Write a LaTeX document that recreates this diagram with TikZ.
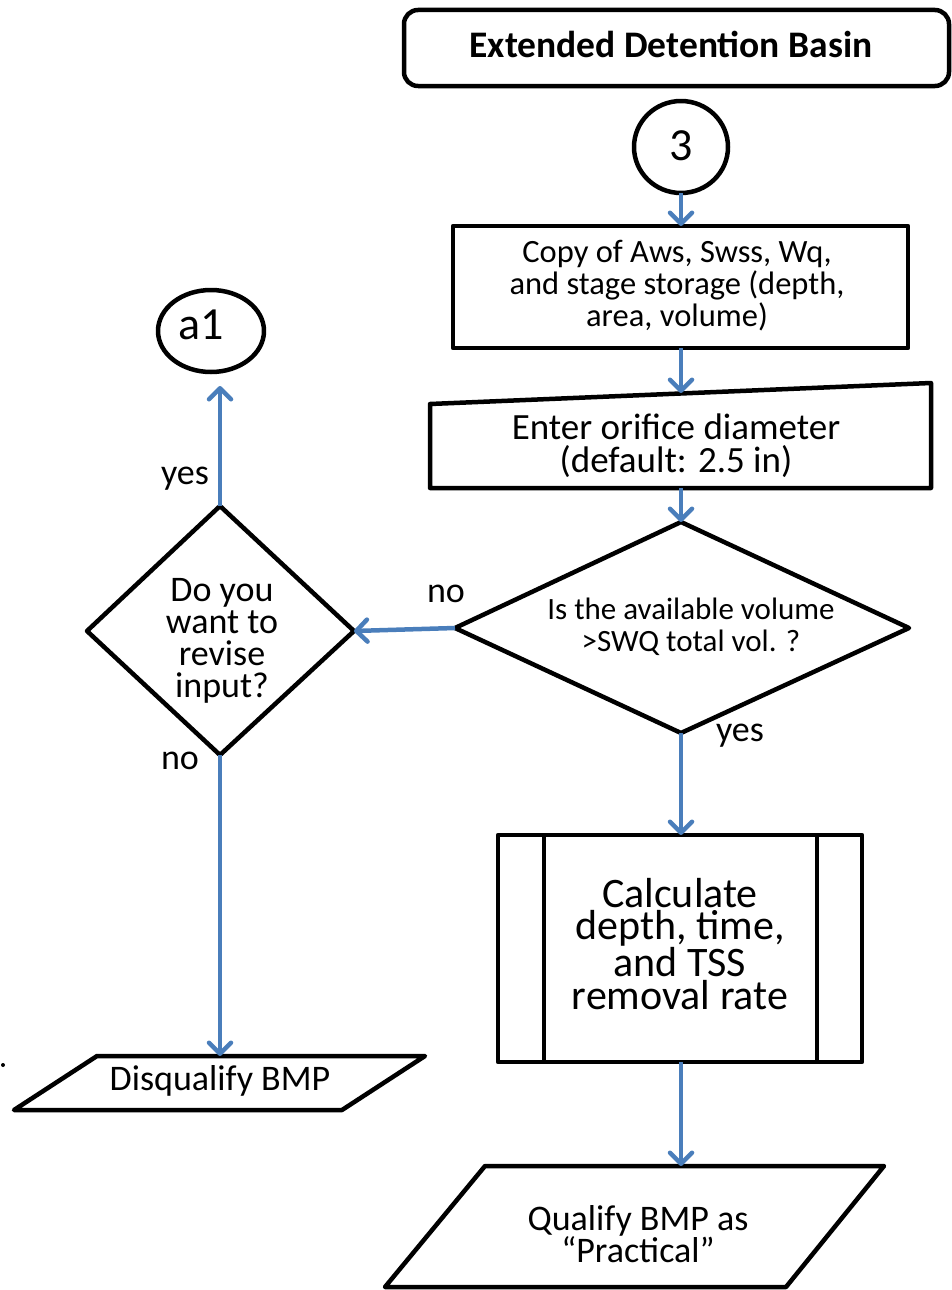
\documentclass[tikz,border=0pt]{standalone}
\usepackage{fontspec}
\setmainfont{Carlito}
\usetikzlibrary{arrows.meta}
\definecolor{flowblue}{HTML}{4A7EBB}
\tikzset{
  shapeline/.style={draw=black,line width=4.5pt,line join=round,fill=white},
  flow/.style={draw=flowblue,line width=4.5pt,-{Straight Barb[length=11pt,width=22pt,line width=4.5pt,round]}},
  txt/.style={align=center,inner sep=0pt,font=\fontsize{32.5}{32}\selectfont},
  lbl/.style={inner sep=0pt,font=\fontsize{36}{32}\selectfont},
}
\begin{document}
\begin{tikzpicture}[x=1pt,y=-1pt]
\useasboundingbox (0,0) rectangle (951,1290);

% title
\draw[shapeline,rounded corners=14pt] (404,10) rectangle (949,86);
\node[txt,font=\fontsize{37.5}{40}\selectfont\bfseries] (title) at (671,44) {Extended Detention Basin};

% connector circle 3
\draw[shapeline] (681,147) ellipse [x radius=47,y radius=46];
\node[txt,font=\fontsize{46}{48}\selectfont] (c3) at (681,146) {3};
\coordinate (c3s) at (681,193);

% copy box
\draw[shapeline] (453,226) rectangle (908,348);
\node[txt] (copy) at (677,286) {Copy of Aws, Swss, Wq,\\and stage storage (depth,\\area, volume)};
\coordinate (copyn) at (681,226);
\coordinate (copys) at (681,348);

% manual input
\draw[shapeline] (430,404) -- (931,383) -- (931,488) -- (430,488) -- cycle;
\node[txt,font=\fontsize{37}{33}\selectfont] (orifice) at (676,446) {Enter orifice diameter\\(default: 2.5 in)};
\coordinate (orn) at (681,393);
\coordinate (ors) at (681,488);

% decision: volume
\draw[shapeline] (681,522) -- (909,628) -- (681,733) -- (455,628) -- cycle;
\node[txt,font=\fontsize{31}{32}\selectfont] (vol) at (691,627) {Is the available volume\\>SWQ total vol. ?};
\coordinate (voln) at (681,522);
\coordinate (vols) at (681,733);
\coordinate (volw) at (455,628);

% decision: revise
\draw[shapeline] (220,506) -- (354,631) -- (220,755) -- (87,631) -- cycle;
\node[txt,font=\fontsize{36}{32}\selectfont] (rev) at (222,641) {Do you\\want to\\revise\\input?};
\coordinate (revn) at (220,506);
\coordinate (revs) at (220,755);
\coordinate (reve) at (354,631);

% connector a1
\draw[shapeline] (211,331) ellipse [x radius=53,y radius=41];
\node[txt,font=\fontsize{46}{48}\selectfont] (a1) at (201,325) {a1};
\coordinate (a1s) at (220,386);

% disqualify
\draw[shapeline] (97,1056) -- (425,1056) -- (342,1110) -- (14,1110) -- cycle;
\node[txt,font=\fontsize{36}{32}\selectfont] (disq) at (220,1081) {Disqualify BMP};
\coordinate (disqn) at (220,1056);

% predefined process
\draw[shapeline] (498,835) rectangle (862,1062);
\draw[draw=black,line width=4.5pt] (544,835) -- (544,1062) (817,835) -- (817,1062);
\node[txt,font=\fontsize{42}{32.3}\selectfont] (calc) at (680,944) {Calculate\\depth, time,\\and TSS\\removal rate};
\coordinate (calcn) at (681,835);
\coordinate (calcs) at (681,1062);

% qualify
\draw[shapeline] (485,1166) -- (884,1166) -- (786,1287) -- (385,1287) -- cycle;
\node[txt,font=\fontsize{36}{32}\selectfont] (qual) at (638,1234) {Qualify BMP as\\“Practical”};
\coordinate (qualn) at (681,1166);

% connectors
\draw[flow] (c3s) -- (copyn);
\draw[flow] (copys) -- (orn);
\draw[flow] (ors) -- (voln);
\draw[flow] (volw) -- (reve);
\draw[flow] (revn) -- (a1s);
\draw[flow] (revs) -- (disqn);
\draw[flow] (vols) -- (calcn);
\draw[flow] (calcs) -- (qualn);

% branch labels
\node[lbl] (lno1) at (446,594) {no};
\node[lbl] (lyes1) at (740,736) {yes};
\node[lbl] (lyes2) at (185,479) {yes};
\node[lbl] (lno2) at (180,761) {no};

% stray mark at the left edge
\fill (3,1065) circle (2);
\end{tikzpicture}
\end{document}
